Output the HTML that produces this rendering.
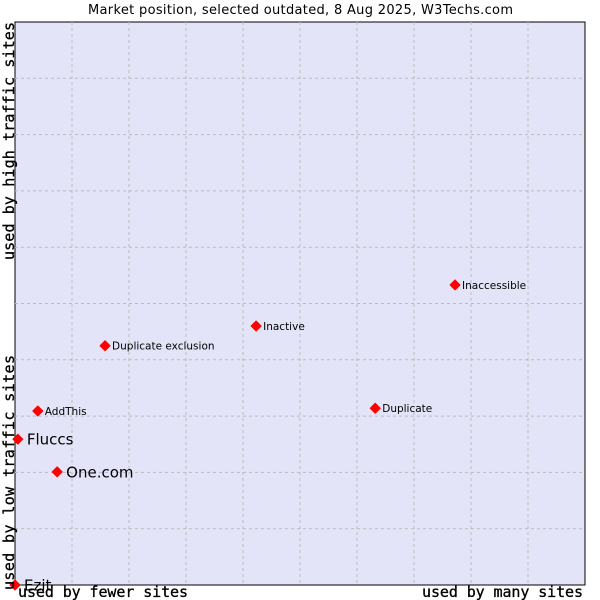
<!DOCTYPE html>
<html><head><meta charset="utf-8"><style>
body{margin:0;background:#fff;width:600px;height:600px;overflow:hidden}
svg{display:block;font-family:"DejaVu Sans","Liberation Sans",sans-serif}
</style></head><body>
<svg id="chart" width="600" height="600">
<text x="88" y="14" textLength="425" font-size="13" fill="#000">Market position, selected outdated, 8 Aug 2025, W3Techs.com</text>
<rect x="15" y="22" width="570" height="563" fill="#e4e4f8" stroke="#000" stroke-width="1"/>
<g id="grid"></g>
<g id="points"></g>
<text x="18" y="597" textLength="170" font-family="DejaVu Sans Mono,monospace" font-size="15" stroke="#000" stroke-width="0.3">used by fewer sites</text>
<text x="422" y="597" textLength="161" font-family="DejaVu Sans Mono,monospace" font-size="15" stroke="#000" stroke-width="0.3">used by many sites</text>
<text transform="translate(14,590) rotate(-90)" textLength="235" font-family="DejaVu Sans Mono,monospace" font-size="15" stroke="#000" stroke-width="0.3">used by low traffic sites</text>
<text transform="translate(14,260) rotate(-90)" textLength="238" font-family="DejaVu Sans Mono,monospace" font-size="15" stroke="#000" stroke-width="0.3">used by high traffic sites</text>
</svg>
<script>
const names=["Ezit","Fluccs","One.com","AddThis","Duplicate exclusion","Inactive","Duplicate","Inaccessible"];
const xVals=[0,0.5,7.4,4.0,15.8,42.3,63.2,77.2];
const yVals=[0,25.9,20.1,30.9,42.5,46.0,31.4,53.3];
const bigLabel=[true,true,true,false,false,false,false,false];
const L=15,R=585,T=22,B=585;
const xs=v=>L+v/100*(R-L);
const ys=v=>B-v/100*(B-T);
const NS="http://www.w3.org/2000/svg";
const g=document.getElementById('grid');
for(let i=1;i<10;i++){
  const a=document.createElementNS(NS,'line');
  
  
  a.setAttribute('x1',xs(i*10));a.setAttribute('x2',xs(i*10));a.setAttribute('y1',T);a.setAttribute('y2',B);
  a.setAttribute('stroke','#bbb');a.setAttribute('stroke-dasharray','3,3');g.appendChild(a);
  const b=document.createElementNS(NS,'line');
  
  
  b.setAttribute('y1',ys(i*10));b.setAttribute('y2',ys(i*10));b.setAttribute('x1',L);b.setAttribute('x2',R);
  b.setAttribute('stroke','#bbb');b.setAttribute('stroke-dasharray','3,3');g.appendChild(b);
}
const p=document.getElementById('points');
names.forEach((n,i)=>{
  const x=xs(xVals[i]),y=ys(yVals[i]);
  const d=document.createElementNS(NS,'path');
  
  
  d.setAttribute('d',`M${x},${y-5}L${x+5},${y}L${x},${y+5}L${x-5},${y}Z`);
  d.setAttribute('fill','#f00');d.setAttribute('stroke','#f00');d.setAttribute('stroke-width','1');d.setAttribute('stroke-linejoin','round');p.appendChild(d);
  const t=document.createElementNS(NS,'text');
  
  
  t.setAttribute('x',x+(bigLabel[i]?9:7));t.setAttribute('y',y+(bigLabel[i]?5.5:4));
  t.setAttribute('font-size',bigLabel[i]?15:10.5);
  t.textContent=n;p.appendChild(t);
});
</script>
</body></html>
